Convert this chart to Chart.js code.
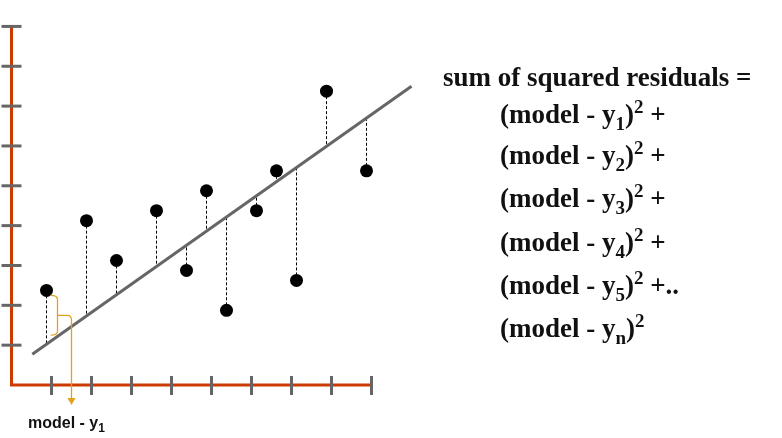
<!DOCTYPE html>
<html>
<head>
<meta charset="utf-8">
<script src="https://cdn.jsdelivr.net/npm/chart.js@4.4.1/dist/chart.umd.min.js"></script>
<style>
  html, body { margin: 0; padding: 0; background: #fff; }
  #wrap { position: relative; width: 782px; height: 438px; overflow: hidden; }
  #chartCanvas { position: absolute; left: 0; top: 0; }
  .f { position: absolute; white-space: nowrap; font: bold 27px "Liberation Serif", "Times New Roman", serif; line-height: 27px; color: #111; }
  .f .lo { position: relative; top: 7px; font-size: 19px; }
  .f .hi { position: relative; top: -10px; font-size: 19px; }
  #lbl { position: absolute; left: 28px; top: 415px; white-space: nowrap; font: bold 16px "Liberation Sans", Arial, sans-serif; line-height: 16px; color: #111; }
  #lbl .lo { position: relative; top: 4px; font-size: 12px; }
</style>
</head>
<body>
<div id="wrap">
  <canvas id="chartCanvas" width="782" height="438"></canvas>
  <div class="f" style="left:443px; top:64px;">sum of squared residuals =</div>
  <div class="f" style="left:500px; top:101px;">(model - y<span class="lo">1</span>)<span class="hi">2</span> +</div>
  <div class="f" style="left:500px; top:142px;">(model - y<span class="lo">2</span>)<span class="hi">2</span> +</div>
  <div class="f" style="left:500px; top:185px;">(model - y<span class="lo">3</span>)<span class="hi">2</span> +</div>
  <div class="f" style="left:500px; top:229px;">(model - y<span class="lo">4</span>)<span class="hi">2</span> +</div>
  <div class="f" style="left:500px; top:272px;">(model - y<span class="lo">5</span>)<span class="hi">2</span> +..</div>
  <div class="f" style="left:500px; top:315px;">(model - y<span class="lo">n</span>)<span class="hi">2</span></div>
  <div id="lbl">model - y<span class="lo">1</span></div>
</div>
<script>
// observed points
const obsX = [0.875, 1.875, 2.625, 3.625, 4.375, 4.875, 5.375, 6.125, 6.625, 7.125, 7.875, 8.875];
const obsY = [2.375, 4.125, 3.125, 4.375, 2.875, 4.875, 1.875, 4.375, 5.375, 2.625, 7.375, 5.375];

// fitted model line (ends)
const fitX = [0.52, 10.0];
const fitY = [0.77, 7.5];

// axis tick positions
const xTicks = [1, 2, 3, 4, 5, 6, 7, 8, 9];
const yTicks = [1, 2, 3, 4, 5, 6, 7, 8, 9];

const slope = (fitY[1] - fitY[0]) / (fitX[1] - fitX[0]);
function model(x){ return fitY[0] + slope * (x - fitX[0]); }

const axisColor = '#cc3a00';
const tickColor = '#666666';
const braceColor = '#e0a21c';

let residuals = [];
obsX.forEach((x, i) => {
    residuals.push({x: x, y: obsY[i]});
    residuals.push({x: x, y: model(x)});
    residuals.push({x: x, y: null});
});

const axesPlugin = {
    id: 'axes',
    beforeDatasetsDraw(chart){
        const c = chart.ctx, xs = chart.scales.x, ys = chart.scales.y;
        const x0 = xs.getPixelForValue(0), y0 = ys.getPixelForValue(0);
        const xEnd = xs.getPixelForValue(xTicks[xTicks.length - 1]);
        const yEnd = ys.getPixelForValue(yTicks[yTicks.length - 1]);
        c.save();
        c.strokeStyle = axisColor;
        c.lineWidth = 3;
        c.lineCap = 'butt';
        c.beginPath();
        c.moveTo(x0, yEnd);
        c.lineTo(x0, y0);
        c.lineTo(xEnd, y0);
        c.stroke();
        c.strokeStyle = tickColor;
        c.lineWidth = 3;
        xTicks.forEach(t => {
            const px = xs.getPixelForValue(t);
            c.beginPath(); c.moveTo(px, y0 - 9); c.lineTo(px, y0 + 10); c.stroke();
        });
        yTicks.forEach(t => {
            const py = ys.getPixelForValue(t);
            c.beginPath(); c.moveTo(x0 - 10, py); c.lineTo(x0 + 10, py); c.stroke();
        });
        c.restore();
    },
    afterDatasetsDraw(chart){
        // curly brace on the first residual, with arrow down to the label
        const c = chart.ctx, xs = chart.scales.x, ys = chart.scales.y;
        const bx = xs.getPixelForValue(1.15);
        const lx = xs.getPixelForValue(0.98);
        const ax = xs.getPixelForValue(1.5);
        const top = ys.getPixelForValue(2.25);
        const bot = ys.getPixelForValue(1.25);
        const mid = (top + bot) / 2;
        const aEnd = ys.getPixelForValue(-0.5);
        c.save();
        c.strokeStyle = braceColor;
        c.fillStyle = braceColor;
        c.lineWidth = 1.3;
        c.beginPath();
        c.moveTo(lx, top);
        c.quadraticCurveTo(bx, top, bx, top + 4);
        c.lineTo(bx, bot - 4);
        c.quadraticCurveTo(bx, bot, lx, bot);
        c.moveTo(bx, mid);
        c.lineTo(ax - 4, mid);
        c.quadraticCurveTo(ax, mid, ax, mid + 5);
        c.lineTo(ax, aEnd - 6);
        c.stroke();
        c.beginPath();
        c.moveTo(ax - 4, aEnd - 7);
        c.lineTo(ax + 4, aEnd - 7);
        c.lineTo(ax, aEnd);
        c.closePath();
        c.fill();
        c.restore();
    }
};

const ctx = document.getElementById('chartCanvas').getContext('2d');
const chart = new Chart(ctx, {
    type: 'scatter',
    data: {
        datasets: [
            { label: 'points', data: obsX.map((x, i) => ({x: x, y: obsY[i]})), pointRadius: 6.5, pointBackgroundColor: '#000', pointBorderWidth: 0, showLine: false, order: 0 },
            { label: 'model', data: fitX.map((x, i) => ({x: x, y: fitY[i]})), showLine: true, borderColor: '#666666', borderWidth: 3, pointRadius: 0, order: 1 },
            { label: 'residuals', data: residuals, showLine: true, spanGaps: false, borderColor: '#000', borderWidth: 1, borderDash: [3, 2], pointRadius: 0, order: 2 }
        ]
    },
    options: {
        responsive: false,
        animation: false,
        events: [],
        layout: { padding: { left: 11.5, right: 10.5, top: 5, bottom: 53 } },
        plugins: { legend: { display: false }, tooltip: { enabled: false } },
        scales: {
            x: { type: 'linear', min: 0, max: 19, display: false },
            y: { type: 'linear', min: 0, max: 9.5, display: false }
        }
    },
    plugins: [axesPlugin]
});
</script>
</body>
</html>
